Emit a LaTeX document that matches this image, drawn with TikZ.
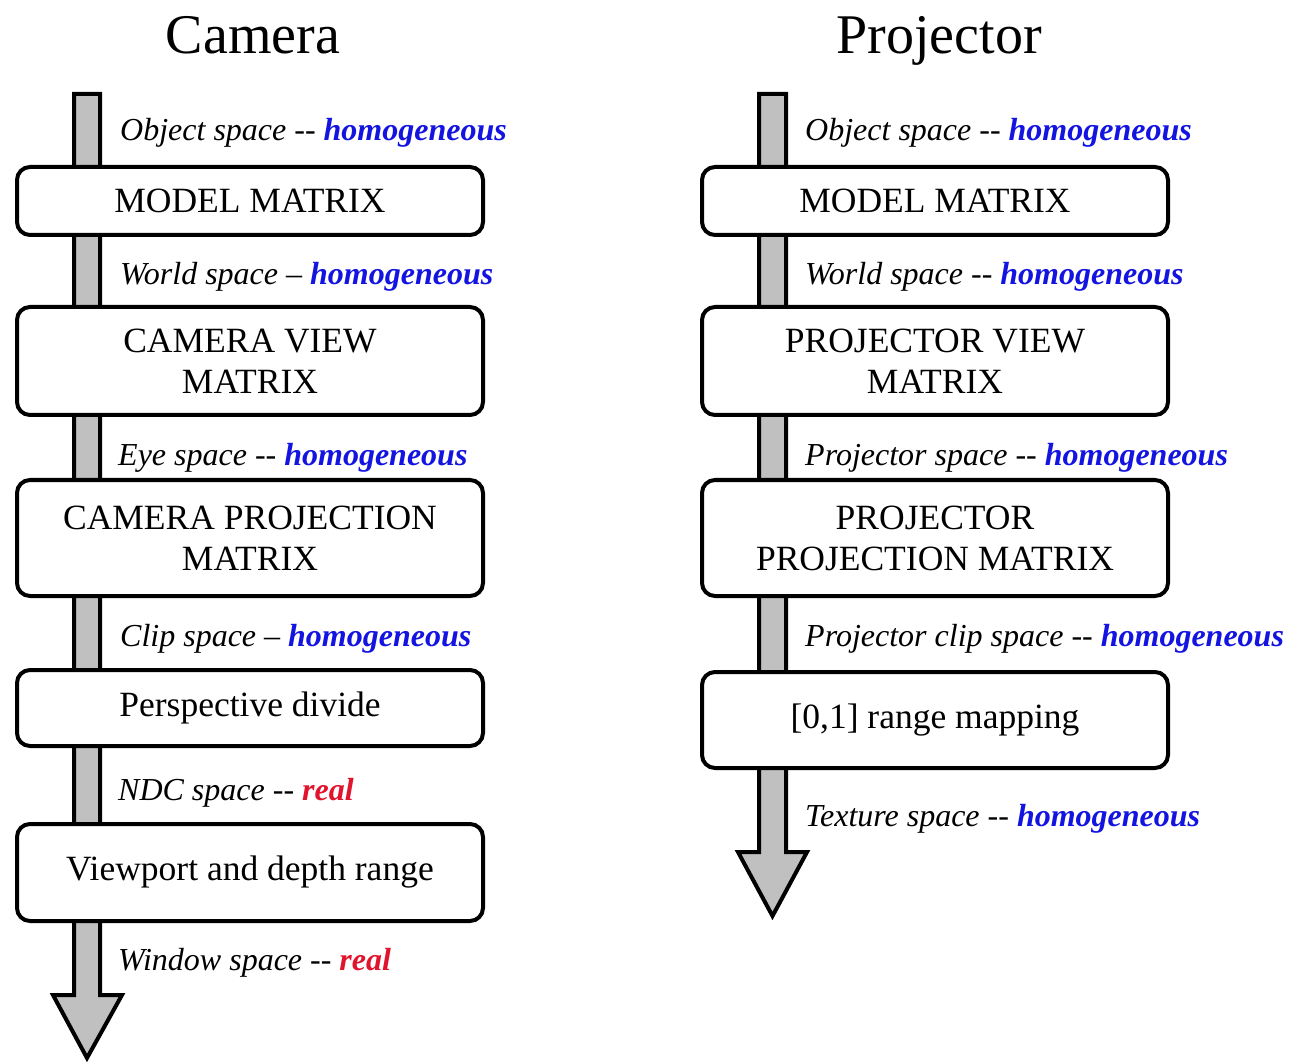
\documentclass[tikz,border=0pt]{standalone}
\usepackage{fontspec}
\setmainfont{Liberation Serif}
\definecolor{hblue}{RGB}{20,20,225}
\definecolor{hred}{RGB}{225,20,45}
\definecolor{shaftgray}{RGB}{192,192,192}
\newcommand{\homog}{\textcolor{hblue}{\bfseries homogeneous}}
\newcommand{\realval}{\textcolor{hred}{\bfseries real}}
\begin{document}
\begin{tikzpicture}[x=1pt,y=-1pt,
  stagebox/.style={draw=black, line width=4pt, rounded corners=13pt, fill=white,
    minimum width=466pt, inner sep=0pt, align=center,
    font=\fontsize{35.5}{41}\selectfont},
  flowarrow/.style={draw=black, fill=shaftgray, line width=4pt, line join=miter},
  spacelabel/.style={anchor=base west, inner sep=0pt,
    font=\fontsize{32}{36}\selectfont\itshape},
  titletext/.style={anchor=base, inner sep=0pt, font=\fontsize{56}{60}\selectfont}]
\useasboundingbox (0,0) rectangle (1291,1064);

% titles
\node[titletext] (tcam) at (253,54) {Camera};
\node[titletext] (tproj) at (939,54) {Projector};

% left flow arrow
\coordinate (la1) at (74,94);
\coordinate (la2) at (100,94);
\coordinate (la3) at (100,995);
\coordinate (la4) at (122,995);
\coordinate (la5) at (87,1058);
\coordinate (la6) at (53,995);
\coordinate (la7) at (74,995);
\draw[flowarrow] (la1) -- (la2) -- (la3) -- (la4) -- (la5) -- (la6) -- (la7) -- cycle;

% right flow arrow
\coordinate (ra1) at (759,94);
\coordinate (ra2) at (786,94);
\coordinate (ra3) at (786,852);
\coordinate (ra4) at (807,852);
\coordinate (ra5) at (772.5,916);
\coordinate (ra6) at (738,852);
\coordinate (ra7) at (759,852);
\draw[flowarrow] (ra1) -- (ra2) -- (ra3) -- (ra4) -- (ra5) -- (ra6) -- (ra7) -- cycle;

% camera boxes
\node[stagebox, minimum height=68pt] (cmodel) at (250,201) {MODEL MATRIX};
\node[stagebox, minimum height=108pt] (cview) at (250,361) {CAMERA VIEW\\MATRIX};
\node[stagebox, minimum height=116pt] (cproj) at (250,538) {CAMERA PROJECTION\\MATRIX};
\node[stagebox, minimum height=76pt] (cdiv) at (250,708) {Perspective divide};
\node[stagebox, minimum height=97pt] (cvp) at (250,872.5) {Viewport and depth range};

% projector boxes
\node[stagebox, minimum height=68pt] (pmodel) at (935,201) {MODEL MATRIX};
\node[stagebox, minimum height=108pt] (pview) at (935,361) {PROJECTOR VIEW\\MATRIX};
\node[stagebox, minimum height=116pt] (pproj) at (935,538) {PROJECTOR\\PROJECTION MATRIX};
\node[stagebox, minimum height=96pt] (pmap) at (935,720) {[0,1] range mapping};

% camera labels
\node[spacelabel] (l1) at (120,141) {Object space -{}- \homog};
\node[spacelabel] (l2) at (120,285) {World space -- \homog};
\node[spacelabel] (l3) at (118,465) {Eye space -{}- \homog};
\node[spacelabel] (l4) at (120,646) {Clip space -- \homog};
\node[spacelabel] (l5) at (118,800) {NDC space -{}- \realval};
\node[spacelabel] (l6) at (118,970) {Window space -{}- \realval};

% projector labels
\node[spacelabel] (r1) at (805,141) {Object space -{}- \homog};
\node[spacelabel] (r2) at (805,285) {World space -{}- \homog};
\node[spacelabel] (r3) at (805,465) {Projector space -{}- \homog};
\node[spacelabel] (r4) at (805,646) {Projector clip space -{}- \homog};
\node[spacelabel] (r5) at (805,826) {Texture space -{}- \homog};
\end{tikzpicture}
\end{document}
